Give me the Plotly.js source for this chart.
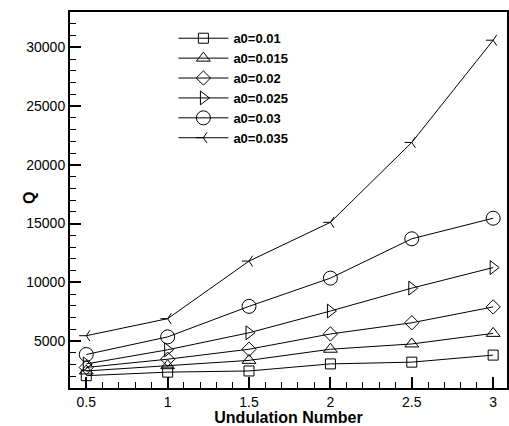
<!DOCTYPE html>
<html><head><meta charset="utf-8">
<script src="https://cdn.plot.ly/plotly-3.0.1.min.js"></script>
<style>html,body{margin:0;padding:0;background:#fff}</style>
</head><body><div id="chart" style="width:509px;height:426px"></div>
<script>
const undulation = [0.5, 1, 1.5, 2, 2.5, 3];
const seriesNames = ['a0=0.01', 'a0=0.015', 'a0=0.02', 'a0=0.025', 'a0=0.03', 'a0=0.035'];
const q_a0_010 = [2050, 2350, 2450, 3050, 3200, 3800];
const q_a0_015 = [2450, 2900, 3350, 4300, 4750, 5650];
const q_a0_020 = [2750, 3450, 4300, 5600, 6550, 7900];
const q_a0_025 = [3050, 4250, 5700, 7550, 9500, 11250];
const q_a0_030 = [3850, 5350, 7950, 10350, 13700, 15450];
const q_a0_035 = [5450, 6900, 11800, 15100, 21900, 30600];
const seriesValues = [q_a0_010, q_a0_015, q_a0_020, q_a0_025, q_a0_030, q_a0_035];
const symbols = ['square-open', 'triangle-up-open', 'diamond-open', 'triangle-right-open', 'circle-open', 'y-left'];
const sizes = [10, 12, 11, 12, 14, 9];

const font = 'Liberation Sans, Arial, Helvetica, sans-serif';
const traces = seriesValues.map((vals, i) => ({
  type: 'scatter', mode: 'lines+markers',
  x: undulation, y: vals, name: seriesNames[i],
  line: {color: '#000', width: 1},
  marker: {symbol: symbols[i], size: sizes[i], color: '#000',
           line: {color: '#000', width: 1}}
}));

const layout = {
  width: 509, height: 426,
  margin: {l: 70, r: 2, t: 12, b: 38},
  paper_bgcolor: '#fff', plot_bgcolor: '#fff',
  font: {family: font, color: '#000', size: 14},
  showlegend: true,
  legend: {x: 0.2366, y: 0.97, xanchor: 'left', yanchor: 'top',
           itemwidth: 50,
           bgcolor: 'rgba(0,0,0,0)', borderwidth: 0,
           font: {family: font, size: 13, weight: 'bold', color: '#000'}},
  xaxis: {
    range: [0.4, 3.085], tick0: 0.5, dtick: 0.5,
    ticks: 'inside', ticklen: 11, tickwidth: 2, tickcolor: '#000',
    minor: {ticks: 'inside', dtick: 0.1, ticklen: 6, tickwidth: 1, tickcolor: '#000'},
    showline: true, linewidth: 2, linecolor: '#000', mirror: true,
    showgrid: false, zeroline: false,
    tickfont: {family: font, size: 14, color: '#000'},
    title: {text: 'Undulation Number', standoff: 0,
            font: {family: font, size: 16, weight: 'bold', color: '#000'}}
  },
  yaxis: {
    range: [1000, 33000], tick0: 0, dtick: 5000, tickformat: 'd',
    ticks: 'inside', ticklen: 11, tickwidth: 2, tickcolor: '#000',
    minor: {ticks: 'inside', dtick: 1000, ticklen: 6, tickwidth: 1, tickcolor: '#000'},
    showline: true, linewidth: 2, linecolor: '#000', mirror: true,
    showgrid: false, zeroline: false,
    tickfont: {family: font, size: 14, color: '#000'}
  },
  annotations: [{
    text: 'Q', xref: 'paper', yref: 'paper', x: -0.094, y: 0.505,
    xanchor: 'center', yanchor: 'middle', showarrow: false, textangle: -90,
    font: {family: font, size: 16, weight: 'bold', color: '#000'}
  }]
};

Plotly.newPlot('chart', traces, layout, {displayModeBar: false, staticPlot: true});
</script></body></html>
